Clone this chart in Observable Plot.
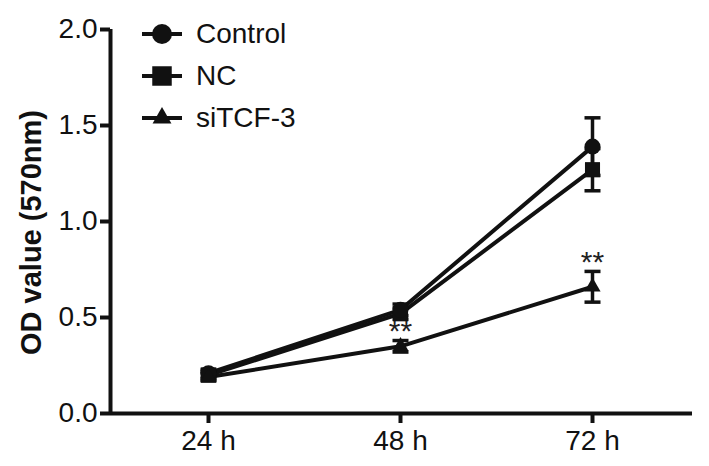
<!DOCTYPE html>
<html>
<head>
<meta charset="utf-8">
<script src="https://cdn.jsdelivr.net/npm/d3@7"></script>
<script src="https://cdn.jsdelivr.net/npm/@observablehq/plot@0.6"></script>
<style>
  html, body { margin: 0; padding: 0; background: #fff; }
  #wrap { position: relative; width: 709px; height: 466px; font-family: "Liberation Sans", Arial, sans-serif; }
  #legend { position: absolute; left: 140px; top: 13px; font-size: 28px; color: #111; }
  .row { display: flex; align-items: center; height: 42px; }
  .row svg { margin-right: 12px; }
</style>
</head>
<body>
<div id="wrap"></div>
<script>
const hours = [24, 48, 72];
const tickLabels = ["24 h", "48 h", "72 h"];
const seriesNames = ["Control", "NC", "siTCF-3"];
const controlMean = [0.21, 0.54, 1.39];
const controlErr = [0.02, 0.03, 0.15];
const ncMean = [0.20, 0.52, 1.27];
const ncErr = [0.02, 0.03, 0.11];
const sitcfMean = [0.19, 0.35, 0.66];
const sitcfErr = [0.02, 0.03, 0.08];
const yTicks = [0, 0.5, 1.0, 1.5, 2.0];
const sigLabels = ["", "**", "**"];

// styling (not data)
const symbols = ["circle", "square", "triangle"];
const markerR = { circle: 8, square: 8.5, triangle: 6 };
const legendR = { circle: 10, square: 11, triangle: 7 };

const means = [controlMean, ncMean, sitcfMean];
const errs = [controlErr, ncErr, sitcfErr];
const data = [];
seriesNames.forEach((s, i) => hours.forEach((h, j) => data.push({
  series: s, symbol: symbols[i], hour: h, mean: means[i][j],
  lo: means[i][j] - errs[i][j], hi: means[i][j] + errs[i][j], sig: i === 2 ? sigLabels[j] : ""
})));

const capSymbol = { draw(ctx, size) { const w = 8; ctx.moveTo(-w, 0); ctx.lineTo(w, 0); } };
const xDomain = [11.75, 84.5];
const fontFam = "'Liberation Sans', Arial, sans-serif";

const chart = Plot.plot({
  width: 709,
  height: 466,
  marginLeft: 110,
  marginRight: 17,
  marginTop: 29,
  marginBottom: 53,
  style: { fontFamily: fontFam, fontSize: "28px", color: "#111", background: "#fff" },
  x: { domain: xDomain, label: null },
  y: { domain: [0, 2], label: null },
  r: { type: "identity" },
  symbol: { domain: symbols, range: symbols },
  marks: [
    Plot.axisX({ ticks: hours, tickFormat: d => tickLabels[hours.indexOf(d)], tickSize: 10, tickPadding: 7, strokeWidth: 4, fontSize: 28, label: null }),
    Plot.axisY({ ticks: yTicks, tickFormat: d3.format(".1f"), tickSize: 10, tickPadding: 3, strokeWidth: 4, fontSize: 28, label: null }),
    Plot.ruleY([0], { strokeWidth: 4, stroke: "#111" }),
    Plot.ruleX([xDomain[0]], { y1: 0, y2: 2, strokeWidth: 4, stroke: "#111" }),
    Plot.line(data, { x: "hour", y: "mean", z: "series", stroke: "#111", strokeWidth: 4 }),
    Plot.ruleX(data, { x: "hour", y1: "lo", y2: "hi", stroke: "#111", strokeWidth: 3.5 }),
    Plot.dot(data, { x: "hour", y: "hi", symbol: capSymbol, stroke: "#111", strokeWidth: 3.5 }),
    Plot.dot(data, { x: "hour", y: "lo", symbol: capSymbol, stroke: "#111", strokeWidth: 3.5 }),
    Plot.dot(data, { x: "hour", y: "mean", symbol: "symbol", r: d => markerR[d.symbol], fill: "#111" }),
    Plot.text(data, { x: "hour", y: "hi", text: "sig", dy: -9, fontSize: 30, fill: "#222" }),
    Plot.text(["OD value (570nm)"], { frameAnchor: "left", textAnchor: "middle", rotate: -90, dx: -79, dy: 11, fontWeight: "bold", fontSize: 29, fill: "#111" })
  ]
});

const wrap = document.getElementById("wrap");
wrap.appendChild(chart);

const legend = document.createElement("div");
legend.id = "legend";
const d3syms = { circle: d3.symbolCircle, square: d3.symbolSquare, triangle: d3.symbolTriangle };
seriesNames.forEach((s, i) => {
  const row = document.createElement("div");
  row.className = "row";
  const r = legendR[symbols[i]];
  const sym = d3.symbol(d3syms[symbols[i]], Math.PI * r * r)();
  row.innerHTML = `<svg width="44" height="26" viewBox="-22 -13 44 26"><line x1="-20" x2="20" stroke="#111" stroke-width="4"/><path d="${sym}" fill="#111"/></svg><span>${s}</span>`;
  legend.appendChild(row);
});
wrap.appendChild(legend);
</script>
</body>
</html>
